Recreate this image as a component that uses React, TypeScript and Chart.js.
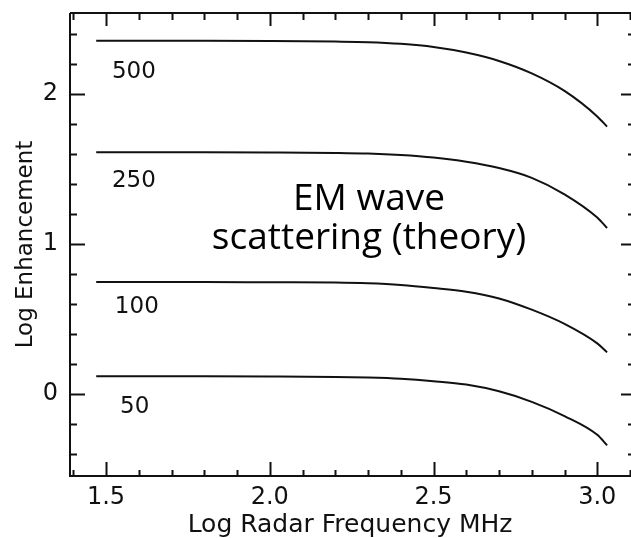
import React, { useEffect, useRef } from 'react';
import { Chart, registerables } from 'chart.js';

Chart.register(...registerables);

// ---- data ----
const frequencies = [1.47, 1.6, 1.8, 2.0, 2.2, 2.3, 2.4, 2.5, 2.6, 2.7, 2.8, 2.9, 3.0, 3.03];
const enh500 = [2.355, 2.355, 2.355, 2.353, 2.349, 2.345, 2.334, 2.313, 2.276, 2.22, 2.137, 2.02, 1.85, 1.782];
const enh250 = [1.61, 1.61, 1.61, 1.609, 1.606, 1.602, 1.592, 1.575, 1.547, 1.505, 1.44, 1.33, 1.175, 1.105];
const enh100 = [0.745, 0.745, 0.745, 0.743, 0.741, 0.736, 0.725, 0.705, 0.68, 0.635, 0.56, 0.465, 0.335, 0.275];
const enh50 = [0.115, 0.115, 0.115, 0.114, 0.111, 0.107, 0.099, 0.083, 0.06, 0.015, -0.055, -0.15, -0.275, -0.345];

const seriesNames = ['500', '250', '100', '50'];
const seriesLabelX = [1.518, 1.518, 1.527, 1.543];
const seriesLabelY = [2.106, 1.378, 0.537, -0.13];

const xTickLabels = [1.5, 2.0, 2.5, 3.0];
const yTickLabels = [0, 1, 2];
const xTickMarks = [1.4, 1.5, 1.6, 1.7, 1.8, 1.9, 2.0, 2.1, 2.2, 2.3, 2.4, 2.5, 2.6, 2.7, 2.8, 2.9, 3.0, 3.1];
const yTickMarks = [-0.4, -0.2, 0, 0.2, 0.4, 0.6, 0.8, 1.0, 1.2, 1.4, 1.6, 1.8, 2.0, 2.2, 2.4];

const noteLines = ['EM wave', 'scattering (theory)'];
const noteX = 2.303;
const noteY = [1.225, 0.965];

const xMin = 1.39;
const xMax = 3.1;
const yMin = -0.55;
const yMax = 2.54;

const INK = '#111';
const FONT = 'DejaVu Sans';

const isMajor = (v: number, list: number[]) => list.some((m) => Math.abs(m - v) < 1e-6);

const framePlugin = {
  id: 'frameTicks',
  afterDraw(chart: any) {
    const { ctx, chartArea: a, scales } = chart;
    const xs = scales.x;
    const ys = scales.y;
    ctx.save();
    ctx.strokeStyle = INK;
    ctx.lineCap = 'butt';
    // frame
    ctx.lineWidth = 2;
    ctx.beginPath();
    ctx.moveTo(a.left, a.top);
    ctx.lineTo(a.right + 1, a.top);
    ctx.moveTo(a.left, a.top);
    ctx.lineTo(a.left, a.bottom);
    ctx.lineTo(a.right + 1, a.bottom);
    ctx.stroke();
    // x ticks (bottom & top, inward)
    xTickMarks.forEach((v) => {
      const px = Math.round(xs.getPixelForValue(v)) + 0.5;
      const major = isMajor(v, xTickLabels);
      ctx.lineWidth = 2;
      ctx.beginPath();
      ctx.moveTo(px, a.bottom);
      ctx.lineTo(px, a.bottom - (major ? 14 : 6));
      ctx.moveTo(px, a.top);
      ctx.lineTo(px, a.top + (major ? 13 : 7));
      ctx.stroke();
    });
    // y ticks (left & right, inward)
    yTickMarks.forEach((v) => {
      const py = Math.round(ys.getPixelForValue(v)) + 0.5;
      const major = isMajor(v, yTickLabels);
      ctx.lineWidth = 2;
      ctx.beginPath();
      ctx.moveTo(a.left, py);
      ctx.lineTo(a.left + (major ? 15 : 7), py);
      ctx.moveTo(a.right + 1, py);
      ctx.lineTo(a.right + 1 - (major ? 10 : 3), py);
      ctx.stroke();
    });
    // series labels
    ctx.fillStyle = INK;
    ctx.font = `23px "${FONT}"`;
    ctx.textAlign = 'left';
    ctx.textBaseline = 'alphabetic';
    seriesNames.forEach((name, i) => {
      ctx.fillText(name, xs.getPixelForValue(seriesLabelX[i]), ys.getPixelForValue(seriesLabelY[i]));
    });
    // annotation
    ctx.fillStyle = '#000';
    ctx.font = '37px "Open Sans"';
    ctx.textAlign = 'center';
    noteLines.forEach((line, i) => {
      ctx.fillText(line, xs.getPixelForValue(noteX), ys.getPixelForValue(noteY[i]));
    });
    ctx.restore();
  },
};

function toPoints(ys: number[]) {
  return frequencies.map((x, i) => ({ x, y: ys[i] }));
}

export default function App() {
  const ref = useRef<HTMLCanvasElement | null>(null);

  useEffect(() => {
    if (!ref.current) return;
    const mk = (data: number[]) => ({
      data: toPoints(data),
      borderColor: INK,
      borderWidth: 2,
      pointRadius: 0,
      fill: false,
      cubicInterpolationMode: 'monotone' as const,
    });
    const chart = new Chart(ref.current, {
      type: 'line',
      data: {
        datasets: [mk(enh500), mk(enh250), mk(enh100), mk(enh50)],
      },
      options: {
        animation: false,
        responsive: false,
        devicePixelRatio: 1,
        layout: { padding: { top: 13, right: 1, left: 0, bottom: 0 } },
        plugins: { legend: { display: false }, tooltip: { enabled: false } },
        scales: {
          x: {
            type: 'linear',
            min: xMin,
            max: xMax,
            afterBuildTicks: (s: any) => {
              s.ticks = xTickLabels.map((v) => ({ value: v }));
            },
            afterFit: (s: any) => {
              s.height = 62;
              s.paddingLeft = 0;
              s.paddingRight = 0;
            },
            grid: { display: false, drawTicks: false },
            border: { display: false },
            ticks: {
              callback: (v: any) => Number(v).toFixed(1),
              font: { family: FONT, size: 24 },
              color: INK,
              padding: 7,
              maxRotation: 0,
              autoSkip: false,
            },
            title: {
              display: true,
              text: 'Log Radar Frequency MHz',
              font: { family: FONT, size: 25, lineHeight: 1 },
              color: INK,
              padding: 0,
            },
          },
          y: {
            type: 'linear',
            min: yMin,
            max: yMax,
            afterBuildTicks: (s: any) => {
              s.ticks = yTickLabels.map((v) => ({ value: v }));
            },
            afterFit: (s: any) => {
              s.width = 70;
              s.paddingTop = 0;
              s.paddingBottom = 0;
            },
            grid: { display: false, drawTicks: false },
            border: { display: false },
            ticks: {
              callback: (v: any) => String(v),
              font: { family: FONT, size: 24 },
              color: INK,
              padding: 12,
            },
            title: {
              display: true,
              text: 'Log Enhancement',
              font: { family: FONT, size: 23, lineHeight: 1 },
              color: INK,
              padding: { top: 15, bottom: 0 },
            },
          },
        },
      },
      plugins: [framePlugin],
    });
    return () => chart.destroy();
  }, []);

  return (
    <div style={{ position: 'absolute', left: 0, top: 0, width: 631, height: 538, background: '#fff' }}>
      <canvas ref={ref} width={631} height={538} />
    </div>
  );
}
